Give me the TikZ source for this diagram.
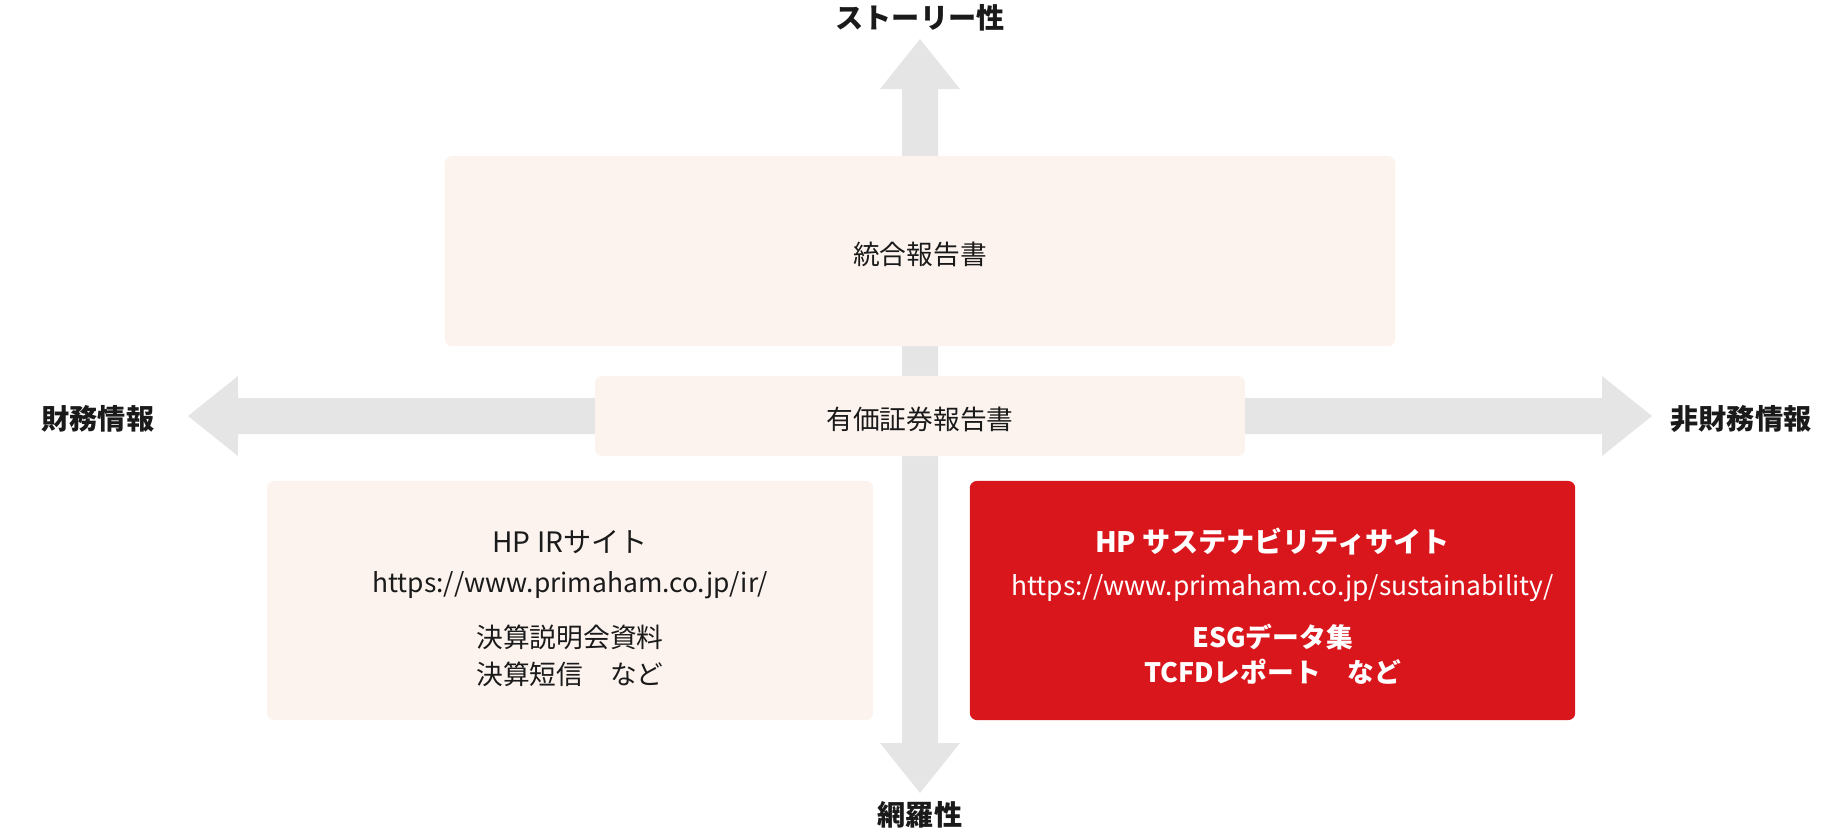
\documentclass[tikz,border=0pt]{standalone}
\usepackage{fontspec}
\setmainfont{Noto Sans CJK JP}
\usetikzlibrary{calc}
\usetikzlibrary{positioning}
\definecolor{boxpink}{HTML}{FCF3EF}
\definecolor{hpred}{HTML}{DA161D}
\definecolor{axisgray}{HTML}{E5E5E5}
\definecolor{inkdark}{HTML}{1A1A1A}
\tikzset{
  lbl/.style={inner sep=0, text height=0.88em, text depth=0.12em, text=inkdark, font=\fontsize{7.6}{9}\selectfont},
  boldlbl/.style={lbl, font=\fontsize{7.6}{9}\selectfont\bfseries},
  axislbl/.style={lbl, font=\fontsize{8}{10}\selectfont\bfseries},
  sitelbl/.style={lbl, font=\fontsize{8}{10}\selectfont},
  boldsite/.style={lbl, font=\fontsize{8}{10}\selectfont\bfseries},
  urllbl/.style={lbl, font=\fontsize{7.5}{9}\selectfont},
  panel/.style={lbl, fill=boxpink, rounded corners=0.07cm},
  redpanel/.style={panel, fill=hpred},
  onred/.style={text=white}
}

\begin{document}
\begin{tikzpicture}[x=0.01cm,y=-0.01cm]
    \useasboundingbox (0,0) rectangle (1840,832);
    % axes
    \coordinate(up) at (920,39);
    \coordinate(down) at (920,793);
    \coordinate(left) at (188,416);
    \coordinate(right) at (1652,416);
    \fill[axisgray] (up) -- ++(40,50) -- ++(-22,0) -- ($(down)+(18,-50)$) -- ++(22,0) -- (down) -- ++(-40,-50) -- ++(22,0) -- ($(up)+(-18,50)$) -- ++(-22,0) -- cycle;
    \fill[axisgray] (left) -- ++(50,-40) -- ++(0,22) -- ($(right)+(-50,-18)$) -- ++(0,-22) -- (right) -- ++(-50,40) -- ++(0,-22) -- ($(left)+(50,18)$) -- ++(0,22) -- cycle;

    \node(story)[axislbl] at (920,15) {ストーリー性};
    \node(cover)[axislbl] at (920,812) {網羅性};
    \node(fin)[axislbl] at (98,416) {財務情報};
    \node(nonfin)[axislbl] at (1741,416) {非財務情報};

    % reports
    \node(ar)[panel, minimum width=9.5cm, minimum height=1.9cm] at (920,251) {統合報告書};
    \node(yr)[panel, minimum width=6.5cm, minimum height=0.8cm] at (920,416) {有価証券報告書};

    \node(ir)[panel, minimum width=6.06cm, minimum height=2.39cm] at (570,600.5) {};
    \node(irt)[sitelbl] at ([yshift=-0.59cm]ir.north) {HP IRサイト};
    \node(iru)[urllbl] at ([yshift=-0.99cm]ir.north) {https://www.primaham.co.jp/ir/};
    \node(ird1)[lbl] at ([yshift=-1.54cm]ir.north) {決算説明会資料};
    \node(ird2)[lbl] at ([yshift=-1.91cm]ir.north) {決算短信　など};

    \node(sus)[redpanel, minimum width=6.05cm, minimum height=2.39cm] at (1272.5,600.5) {};
    \node(sust)[boldsite, onred] at ([yshift=-0.59cm]sus.north) {HP サステナビリティサイト};
    \node(susu)[urllbl, onred] at ([xshift=0.1cm,yshift=-1.02cm]sus.north) {https://www.primaham.co.jp/sustainability/};
    \node(susd1)[boldlbl, onred] at ([yshift=-1.54cm]sus.north) {ESGデータ集};
    \node(susd2)[boldlbl, onred] at ([yshift=-1.89cm]sus.north) {TCFDレポート　など};
\end{tikzpicture}
\end{document}
